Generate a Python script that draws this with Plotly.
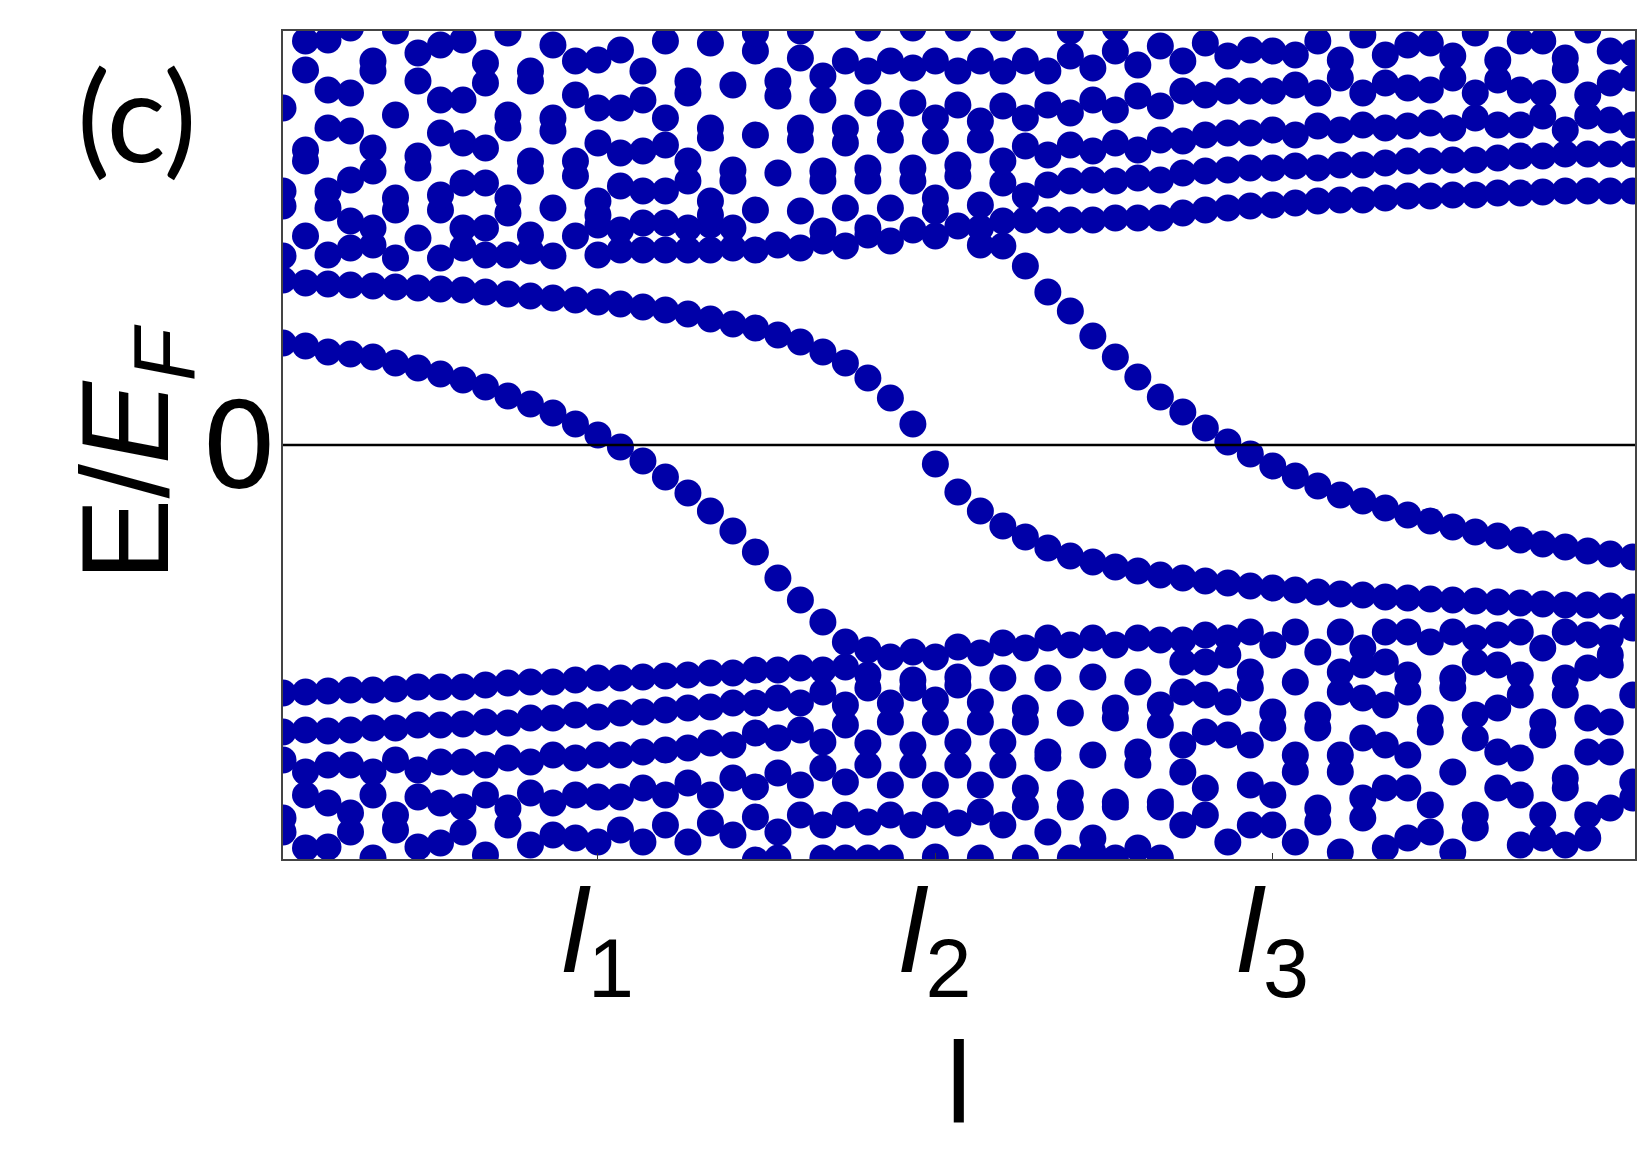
import plotly.graph_objects as go

# parameter grid (sample index along l)
l_index = list(range(61))
l_ticks = [14, 29, 44]
l_ticklabels = ['<i>l</i><sub>1</sub>', '<i>l</i><sub>2</sub>', '<i>l</i><sub>3</sub>']

# energies, E/E_F in units of 0.01
# in-gap states
state_a = [10.2, 9.9, 9.3, 9.1, 8.8, 8.2, 7.7, 7.1, 6.5, 5.8, 4.9, 4.1, 3.2, 2.1, 1.0, -0.2, -1.6, -3.2, -4.8, -6.6,
           -8.6, -10.7, -13.3, -15.5, -17.7, -19.7] + [None] * 35
state_b = [16.5, 16.2, 16.1, 16.0, 15.9, 15.8, 15.7, 15.6, 15.5, 15.3, 15.1, 14.9, 14.7, 14.5, 14.3, 14.1, 13.8, 13.5, 13.1, 12.6,
           12.1, 11.7, 11.0, 10.3, 9.3, 8.2, 6.7, 4.7, 2.1, -1.9, -4.7, -6.6, -8.1, -9.2, -10.3, -11.1, -11.7, -12.2, -12.6, -13.0,
           -13.3, -13.6, -13.8, -14.1, -14.3, -14.5, -14.7, -14.9, -15.0, -15.2, -15.3, -15.4, -15.5, -15.6, -15.7, -15.8, -15.9, -16.0, -16.0, -16.1,
           -16.2]
state_c = [18.9, 20.9, 19.0, 19.7, 20.0, 18.7, 20.7, 18.7, 19.7, 19.0, 19.0, 19.4, 18.9, 20.9, 19.0, 19.5, 19.5, 19.5, 19.5, 19.5,
           19.7, 19.5, 20.0, 19.7, 20.4, 19.9, 21.0, 20.4, 21.5, 20.9, 21.9, 20.0, 19.9, 17.9, 15.3, 13.4, 10.9, 8.8, 6.8, 4.8,
           3.3, 1.7, 0.3, -0.9, -2.1, -3.1, -4.1, -5.0, -5.6, -6.3, -7.0, -7.6, -8.2, -8.7, -9.1, -9.5, -9.9, -10.2, -10.6, -10.9,
           -11.2]

# upper band levels (sorted upward)
up1 = [23.9, 28.4, 23.7, 22.4, 21.7, 23.5, 27.7, 23.5, 21.7, 21.7, 23.2, 21.0, 23.7, 26.9, 22.0, 21.5, 22.2, 22.2, 21.7, 22.0,
       21.7, 23.5, 27.2, 23.4, 21.4, 23.7, 21.7, 23.7, 26.4, 23.4, 26.9, 21.7, 22.4, 22.5, 22.5, 22.5, 22.5, 22.7, 22.7, 22.7,
       23.2, 23.5, 23.7, 23.9, 24.0, 24.2, 24.4, 24.5, 24.5, 24.7, 24.9, 24.9, 25.0, 25.0, 25.2, 25.2, 25.3, 25.4, 25.4, 25.4,
       25.4]
up2 = [25.4, 29.5, 25.4, 26.5, 27.4, 24.7, 28.9, 25.0, 26.2, 26.2, 24.7, 27.4, 31.4, 28.4, 23.0, 25.9, 25.4, 25.4, 26.4, 23.0,
       26.4, 31.0, 34.9, 30.5, 26.4, 30.2, 26.4, 30.5, 27.7, 24.7, 28.0, 24.0, 26.2, 24.9, 26.0, 26.4, 26.5, 26.4, 26.7, 26.5,
       27.2, 27.4, 27.5, 27.7, 27.7, 27.9, 27.7, 28.0, 28.0, 28.2, 28.4, 28.4, 28.5, 28.5, 28.7, 28.9, 28.9, 29.1, 29.1, 29.1,
       29.1]
up3 = [33.7, 37.5, 31.7, 31.4, 29.7, 33.0, 36.4, 31.2, 30.2, 29.7, 31.7, 28.4, 32.7, 35.0, 24.4, 29.2, 29.4, 30.0, 28.4, 24.4,
       27.5, 39.4, 36.4, 31.7, 27.4, 31.7, 27.7, 32.2, 34.2, 30.4, 34.0, 30.5, 28.4, 29.9, 29.0, 30.0, 29.4, 30.2, 29.5, 30.5,
       30.4, 31.0, 31.2, 31.2, 31.5, 31.0, 31.9, 31.5, 32.0, 31.7, 31.9, 32.2, 31.7, 32.7, 32.0, 32.0, 32.9, 31.5, 32.9, 32.5,
       32.0]
up4 = [None, 40.4, 35.5, 35.2, 37.4, 41.4, 39.2, 34.5, 34.5, 36.2, 33.0, 36.4, 40.0, 38.4, 30.2, 33.7, 34.5, 32.7, 35.2, 30.7,
       36.0, 41.2, None, 38.7, 34.5, 38.4, 34.2, 38.4, 37.7, 32.7, 37.4, 32.4, 33.9, 32.7, 34.0, 33.2, 34.5, 33.5, 34.9, 33.9,
       35.4, 35.0, 35.4, 35.4, 35.4, 36.0, 35.2, 36.7, 35.2, 36.2, 35.7, 35.5, 36.7, 35.2, 36.5, 35.5, 35.2, 37.5, 35.0, 36.2,
       36.7]
up5 = [None, None, 40.5, 41.7, 38.4, None, None, 40.0, 40.5, 38.2, 41.2, 37.4, None, None, 33.7, 39.5, 37.4, 40.4, 36.4, 31.7,
       None, None, None, 41.4, 36.9, None, 37.4, None, 41.7, 38.4, 41.7, 38.4, 37.4, 38.4, 37.4, 38.9, 37.7, 39.4, 38.0, 39.9,
       38.4, 40.2, 38.9, 39.5, 39.4, 39.0, 40.4, 38.5, 41.0, 39.0, 40.0, 40.2, 38.9, 41.2, 38.5, 40.4, 40.4, 38.7, 41.5, 39.4,
       39.2]
up6 = [None] * 14 + [38.5, None, None, None, None, 40.2, None, None, None, None, None, None, 41.7, None, None, None,
                     None, None, 41.7, None, None, 41.4, None, 41.7] + [None] * 23

# lower band levels (sorted downward)
lo1 = [-24.8, -24.7, -24.6, -24.5, -24.5, -24.4, -24.2, -24.2, -24.2, -24.0, -23.8, -23.7, -23.7, -23.5, -23.3, -23.3, -23.2, -23.1, -23.0, -22.8,
       -22.8, -22.5, -22.5, -22.3, -22.5, -22.2, -20.5, -21.2, -20.7, -21.2, -20.2, -20.8, -19.8, -20.3, -19.3, -20.0, -19.3, -20.0, -19.3, -19.5,
       -19.5, -19.0, -19.3, -18.7, -20.0, -18.7, -20.7, -18.7, -20.3, -18.7, -18.7, -19.7, -18.7, -19.3, -19.0, -18.7, -20.3, -18.7, -19.0, -19.3,
       -18.3]
lo2 = [-28.7, -28.5, -28.6, -28.5, -28.3, -28.3, -28.0, -28.0, -27.9, -27.7, -27.8, -27.3, -27.3, -27.0, -27.2, -26.8, -26.7, -26.5, -26.3, -26.2,
       -25.8, -25.8, -25.3, -25.8, -24.7, -26.0, -23.0, -25.8, -23.5, -25.5, -23.2, -25.7, -23.3, -26.3, -23.3, -26.8, -23.2, -26.3, -23.7, -26.0,
       -21.7, -21.7, -21.0, -22.7, -26.7, -23.7, -27.0, -22.7, -22.0, -21.7, -23.0, -27.3, -23.3, -21.7, -22.0, -23.0, -27.7, -23.3, -22.3, -21.0,
       -25.0]
lo3 = [-31.5, -32.7, -32.0, -32.0, -32.7, -31.5, -32.5, -31.7, -31.7, -32.0, -31.3, -31.7, -31.0, -31.3, -31.0, -31.0, -30.7, -30.5, -30.3, -29.8,
       -30.0, -28.8, -29.3, -28.5, -29.7, -28.0, -24.3, -27.7, -24.3, -27.7, -24.0, -27.7, -29.7, -27.7, -30.7, -34.8, -31.0, -27.3, -30.7, -28.0,
       -24.7, -25.0, -25.7, -24.3, -28.3, -31.0, -28.3, -24.7, -25.3, -26.0, -24.7, -28.7, -24.3, -27.0, -26.3, -25.0, -29.0, -25.0, -27.3, -22.0,
       -33.7]
lo4 = [-37.3, -35.0, -35.8, -36.8, -35.0, -37.0, -35.2, -35.8, -36.2, -35.0, -36.3, -34.8, -35.8, -35.0, -35.2, -35.2, -34.3, -35.0, -33.8, -35.0,
       -33.3, -34.2, -32.8, -34.0, -32.3, -33.7, -29.8, -34.0, -30.0, -34.0, -29.7, -34.0, -32.0, -34.3, -31.3, -36.2, -39.3, -35.7, -32.0, -35.7,
       -30.0, -28.7, -29.0, -30.0, -35.0, -32.7, -36.3, -31.0, -29.3, -30.0, -31.0, -36.0, -32.7, -29.3, -30.7, -31.3, -37.0, -33.3, -30.7, -27.7,
       -35.3]
lo5 = [-38.7, -40.3, -40.2, -38.7, -41.3, -38.5, -40.2, -39.8, -38.7, -41.0, -38.0, -40.0, -39.0, -39.3, -39.7, -38.5, -39.7, -38.0, -39.7, -37.8,
       -39.0, -37.2, -38.7, -37.0, -38.0, -37.0, -32.0, -37.0, -32.0, -37.0, -32.0, -36.7, -38.0, -36.2, -38.7, -41.3, -40.7, -36.2, -40.3, -36.2,
       -32.7, -34.3, -39.7, -34.0, -38.0, -39.7, -37.7, -32.7, -35.3, -34.3, -34.3, -38.7, -40.7, -37.0, -34.3, -35.0, -39.3, -34.3, -37.0, -30.7,
       None]
lo6 = [None] * 21 + [-41.5, -41.3, None, -41.3, -41.3, -37.7, -41.3, -38.0, -41.2, -37.8, -41.3, None, -41.3, None, None, None, -41.3, None, -41.3,
                     -38.0, -37.0, None, -38.0, None, None, None, -40.7, -37.3, -40.3, -39.3, None, None, -38.3, None, -40.0, None, -40.0, -39.3, -36.3,
                     None]
lo7 = [None] * 26 + [-41.3] + [None] * 34

levels = [state_a, state_b, state_c, up1, up2, up3, up4, up5, up6, lo1, lo2, lo3, lo4, lo5, lo6, lo7]
for lev in levels:
    if len(lev) != len(l_index):
        raise ValueError('level length %d' % len(lev))

fig = go.Figure()
for lev in levels:
    fig.add_trace(go.Scatter(x=l_index, y=lev, mode='markers',
                             marker=dict(size=27, color='#0000a8'),
                             showlegend=False, hoverinfo='skip'))

# E = E_F line
fig.add_shape(type='line', xref='x domain', yref='y', x0=0, x1=1, y0=0, y1=0,
              line=dict(color='black', width=2.5), layer='above')

# panel label and axis titles
fig.add_annotation(text='(c)', xref='paper', yref='paper', x=-0.108, y=0.900,
                   xanchor='center', yanchor='middle', showarrow=False,
                   font=dict(family='Lato', size=124, color='black'))
fig.add_annotation(text='E/<i>E</i><sub><i>F</i></sub>', xref='paper', yref='paper',
                   x=-0.110, y=0.4915, textangle=-90, xanchor='center', yanchor='middle',
                   showarrow=False, font=dict(size=124, color='black'))
fig.add_annotation(text='l', xref='paper', yref='paper', x=0.5, y=-0.2693,
                   xanchor='center', yanchor='middle', showarrow=False,
                   font=dict(size=115, color='black'))

fig.update_xaxes(range=[0, 60.1], tickvals=l_ticks, ticktext=l_ticklabels,
                 ticks='inside', ticklen=6, tickcolor='#333', showline=True, linecolor='#444',
                 linewidth=1.5, mirror=True, showgrid=False, zeroline=False,
                 tickfont=dict(size=118), ticklabelstandoff=-30, automargin=False)
fig.update_yaxes(range=[-41.4, 41.4], tickvals=[0], ticktext=['0'], ticks='',
                 showline=True, linecolor='#444', linewidth=1.5, mirror=True,
                 showgrid=False, zeroline=False, tickfont=dict(family='DejaVu Sans', size=120),
                 ticklabelstandoff=-20, automargin=False)

fig.update_layout(width=1638, height=1155, margin=dict(l=283, r=3, t=31, b=296),
                  plot_bgcolor='white', paper_bgcolor='white',
                  font=dict(family='Liberation Sans', color='black'))

fig.write_html("out.html", config={'displayModeBar': False},
               post_script="document.body.style.margin = '0px';")
